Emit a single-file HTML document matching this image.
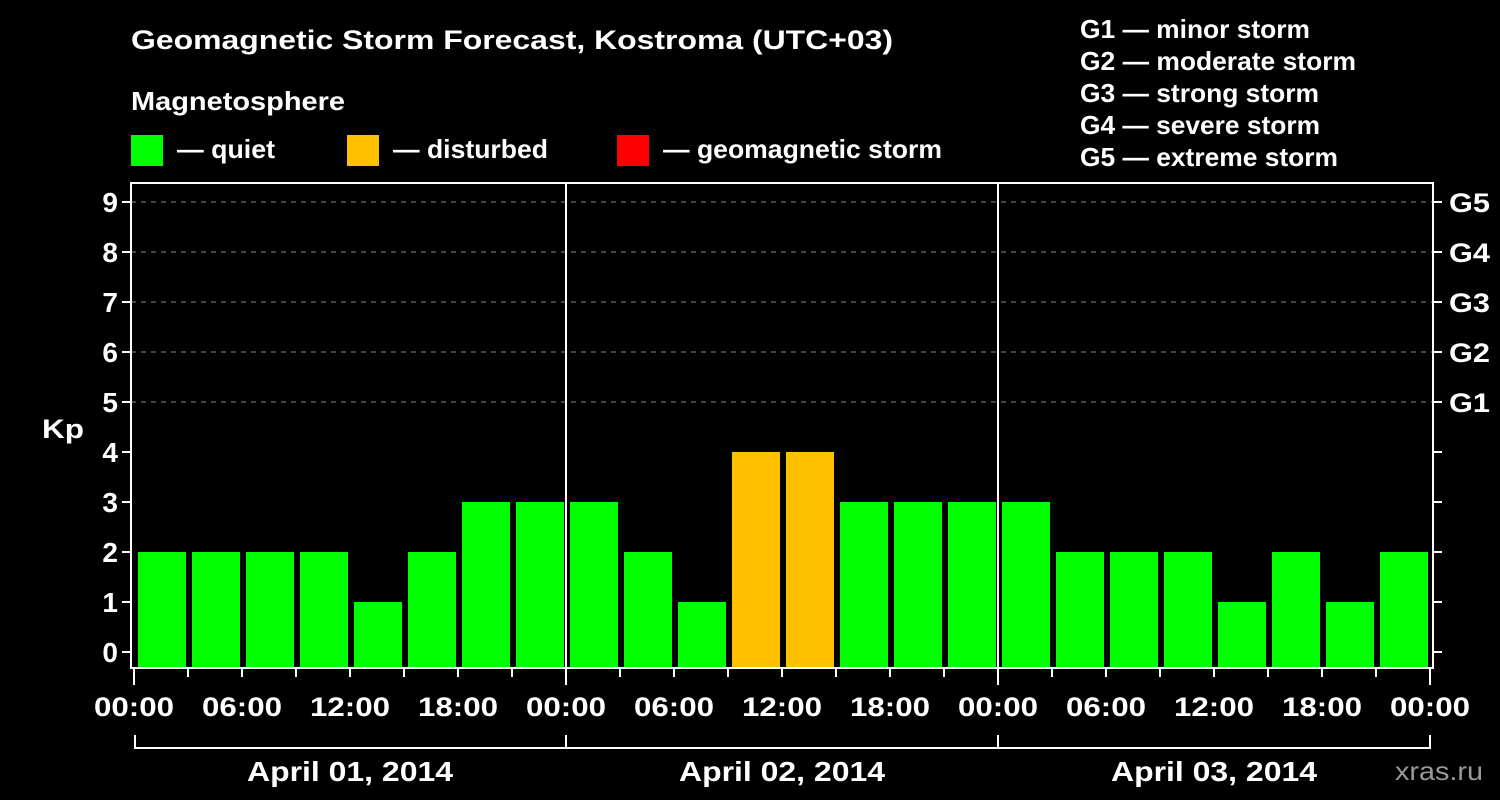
<!DOCTYPE html>
<html><head><meta charset="utf-8"><style>
body{margin:0;background:#000;}
svg{display:block;font-family:"Liberation Sans",Arial,sans-serif;font-weight:bold;fill:#fff;}
</style></head><body>
<svg id="chart" width="1500" height="800" viewBox="0 0 1500 800">
<rect width="1500" height="800" fill="#000"/>
<text x="131" y="49" font-size="27" textLength="762" lengthAdjust="spacingAndGlyphs">Geomagnetic Storm Forecast, Kostroma (UTC+03)</text>
<text x="131" y="110" font-size="26" textLength="214" lengthAdjust="spacingAndGlyphs">Magnetosphere</text>
<g><rect x="131" y="135" width="32" height="31" fill="#00ff00"/><text x="177" y="158" font-size="26" textLength="98" lengthAdjust="spacingAndGlyphs">— quiet</text></g>
<g><rect x="347" y="135" width="32" height="31" fill="#ffc000"/><text x="393" y="158" font-size="26" textLength="155" lengthAdjust="spacingAndGlyphs">— disturbed</text></g>
<g><rect x="617" y="135" width="32" height="31" fill="#ff0000"/><text x="663" y="158" font-size="26" textLength="279" lengthAdjust="spacingAndGlyphs">— geomagnetic storm</text></g>
<g font-size="26" lengthAdjust="spacingAndGlyphs">
<text x="1080" y="38" textLength="230" lengthAdjust="spacingAndGlyphs">G1 — minor storm</text>
<text x="1080" y="70" textLength="276" lengthAdjust="spacingAndGlyphs">G2 — moderate storm</text>
<text x="1080" y="102" textLength="239" lengthAdjust="spacingAndGlyphs">G3 — strong storm</text>
<text x="1080" y="134" textLength="240" lengthAdjust="spacingAndGlyphs">G4 — severe storm</text>
<text x="1080" y="166" textLength="258" lengthAdjust="spacingAndGlyphs">G5 — extreme storm</text>
</g>
<text x="42" y="438" font-size="27" textLength="42" lengthAdjust="spacingAndGlyphs">Kp</text>
<text x="1395" y="780" font-size="26" font-weight="normal" style="fill:#999" textLength="88" lengthAdjust="spacingAndGlyphs">xras.ru</text>
<g id="grid"></g><g id="bars"></g><g id="axes"></g>
</svg>
<script>
const days=["April 01, 2014","April 02, 2014","April 03, 2014"];
const timeLabels=["00:00","06:00","12:00","18:00"];
const kpValues=[2,2,2,2,1,2,3,3, 3,2,1,4,4,3,3,3, 3,2,2,2,1,2,1,2];
const yTicks=[0,1,2,3,4,5,6,7,8,9];
const gLabels=["G1","G2","G3","G4","G5"];
const NS="http://www.w3.org/2000/svg";
const x0=134,step=54,y0=652,unit=50,plotLeft=131,plotRight=1433,plotTop=183,plotBottom=668;
const xs=i=>x0+i*step, ys=v=>y0-v*unit;
function mk(tag,attrs,parent,text){const e=document.createElementNS(NS,tag);for(const k in attrs)e.setAttribute(k,attrs[k]);if(text!==undefined)e.textContent=text;parent.appendChild(e);return e;}
const grid=document.getElementById('grid'),bars=document.getElementById('bars'),axes=document.getElementById('axes');
yTicks.forEach(v=>{
  if(v>=5){const l=mk('line',{x1:plotLeft,x2:plotRight,y1:ys(v),y2:ys(v),stroke:'#888','stroke-width':1,'stroke-dasharray':'5,5'},grid);
  
  }
  const t=mk('line',{x1:plotLeft-9,x2:plotLeft,y1:ys(v),y2:ys(v),stroke:'#fff','stroke-width':2},axes);
  
  
  const t2=mk('line',{x1:plotRight,x2:plotRight+9,y1:ys(v),y2:ys(v),stroke:'#fff','stroke-width':2},axes);
  
  
  const lb=mk('text',{x:plotLeft-13,y:ys(v)+10,'font-size':28,'text-anchor':'end'},axes,String(v));
  
  
});
gLabels.forEach((g,i)=>{
  const lb=mk('text',{x:1449,y:ys(5+i)+10,'font-size':27,textLength:41,lengthAdjust:'spacingAndGlyphs'},axes,g);
  
  
});
kpValues.forEach((v,i)=>{
  const c=v>=5?'#ff0000':(v>=4?'#ffc000':'#00ff00');
  const b=mk('rect',{x:xs(i)+4,y:ys(v),width:48,height:plotBottom-1-ys(v),fill:c},bars);
  
  
});
const fr=mk('rect',{x:plotLeft,y:plotTop,width:plotRight-plotLeft,height:plotBottom-plotTop,fill:'none',stroke:'#fff','stroke-width':2},axes);


for(let d=1;d<days.length;d++){
  const l=mk('line',{x1:xs(d*8),x2:xs(d*8),y1:plotTop,y2:plotBottom,stroke:'#fff','stroke-width':2},axes);
  
  
}
for(let i=0;i<=kpValues.length;i++){
  const major=i%8===0;
  const l=mk('line',{x1:xs(i),x2:xs(i),y1:plotBottom,y2:plotBottom+(major?17:9),stroke:'#fff','stroke-width':2},axes);
  
  
  if(i%2===0){
    const t=mk('text',{x:xs(i),y:716,'font-size':27,'text-anchor':'middle',textLength:80,lengthAdjust:'spacingAndGlyphs'},axes,timeLabels[(i/2)%4]);
    
    
  }
}
const br=mk('path',{d:`M${xs(0)+1} 735V748H${xs(24)}V735`,fill:'none',stroke:'#fff','stroke-width':2},axes);


days.forEach((d,k)=>{
  if(k>0){const l=mk('line',{x1:xs(k*8),x2:xs(k*8),y1:735,y2:748,stroke:'#fff','stroke-width':2},axes);
  
  }
  const t=mk('text',{x:(xs(k*8)+xs(k*8+8))/2,y:781,'font-size':28,'text-anchor':'middle',textLength:206,lengthAdjust:'spacingAndGlyphs'},axes,d);
  
  
});
</script>
</body></html>
